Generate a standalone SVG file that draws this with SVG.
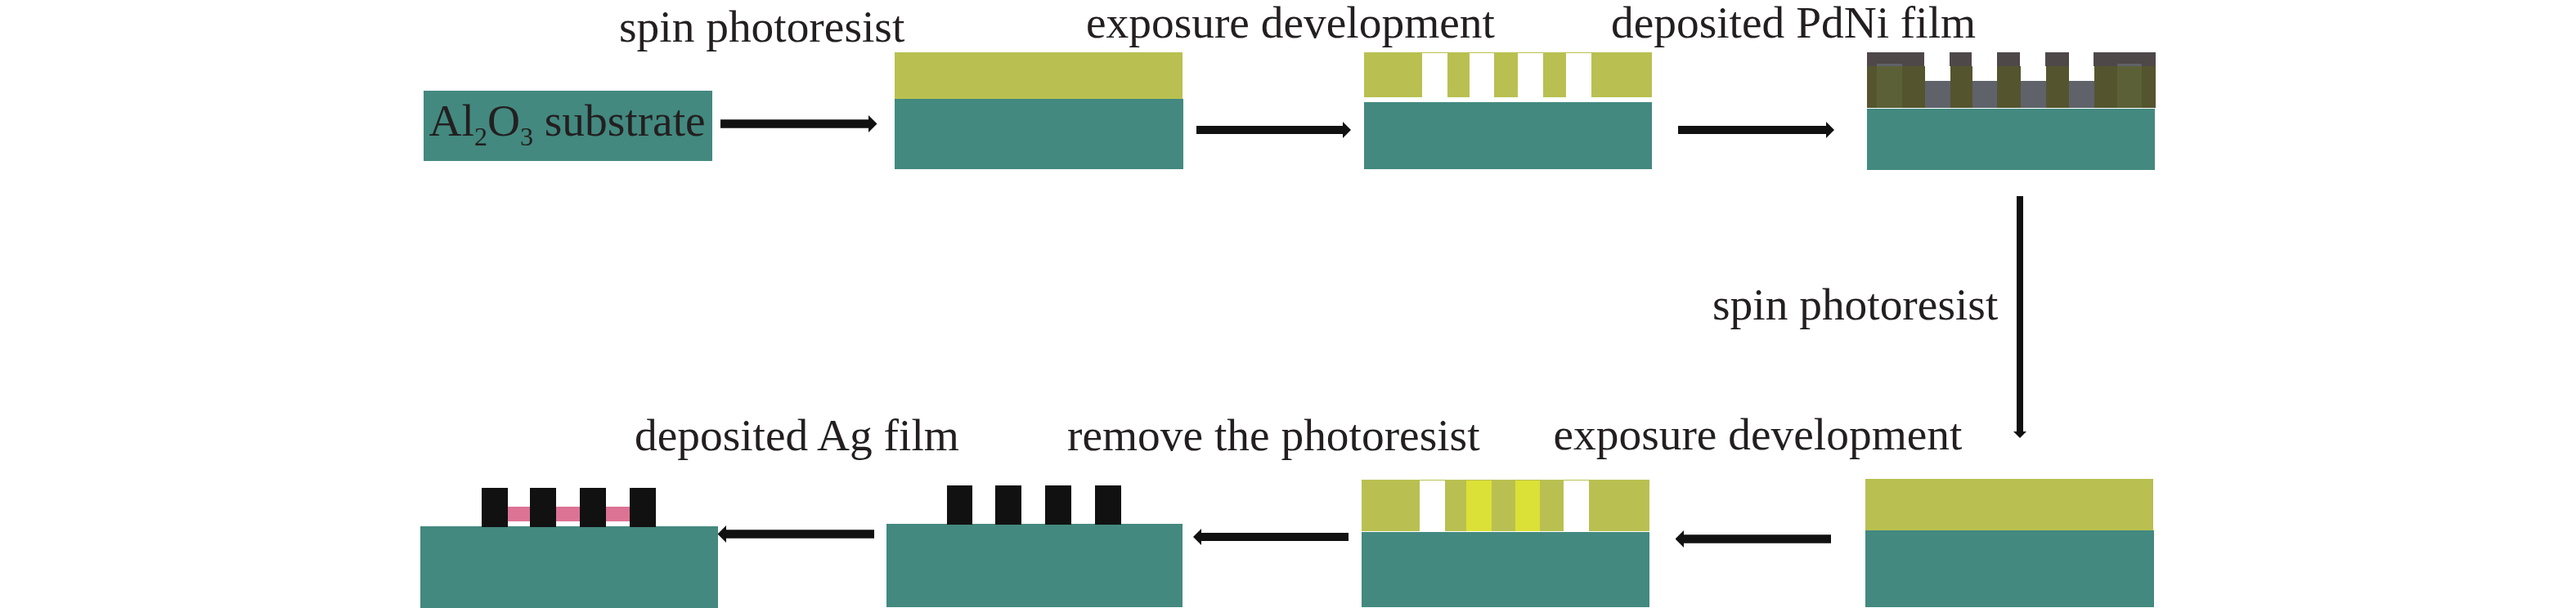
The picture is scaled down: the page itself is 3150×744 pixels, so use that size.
<svg xmlns="http://www.w3.org/2000/svg" width="3150" height="744" viewBox="0 0 3150 744">
<defs>
<marker id="head" markerUnits="strokeWidth" markerWidth="1" markerHeight="2" viewBox="0 0 10 20" refX="0" refY="10" orient="auto"><path d="M0 0 L10 10 L0 20 Z" fill="#111"/></marker>
</defs>
<style>
.sub{fill:#43897f}
.res{fill:#b9c051}
.yel{fill:#dbe136}
.blk{fill:#111}
.drk{fill:#4e4849}
.olv{fill:#54552f}
.gry{fill:#5f6269}
.lit{fill:#5c6036}
.pnk{fill:#dc7395}
.gap{fill:#fff}
.lbl{font-family:"Liberation Serif","Times New Roman",serif;font-size:55.4px;fill:#231f20}
.arr{stroke:#111;fill:none;marker-end:url(#head)}
</style>
<rect width="3150" height="744" fill="#fff"/>
<g id="connectors">
<line class="arr" x1="881" y1="151.500" x2="1062" y2="151.500" stroke-width="10.500"/>
<line class="arr" x1="1463" y1="159" x2="1642" y2="159" stroke-width="10"/>
<line class="arr" x1="2052" y1="159" x2="2233" y2="159" stroke-width="10"/>
<line class="arr" x1="2470" y1="240" x2="2470" y2="528" stroke-width="8"/>
<line class="arr" x1="2239" y1="659.500" x2="2059" y2="659.500" stroke-width="10.500"/>
<line class="arr" x1="1649" y1="657" x2="1469" y2="657" stroke-width="10"/>
<line class="arr" x1="1069" y1="653.500" x2="888" y2="653.500" stroke-width="10.500"/>
</g>
<g id="node-1">
<rect class="sub" x="518" y="111" width="353" height="86"/>
<text class="lbl" x="524.500" y="165.500">Al<tspan font-size="32" dy="12">2</tspan><tspan dy="-12">O</tspan><tspan font-size="32" dy="12">3</tspan><tspan dy="-12"> substrate</tspan></text>
</g>
<text id="label-1" class="lbl" x="757" y="51">spin photoresist</text>
<g id="node-2">
<rect class="res" x="1094" y="64" width="352" height="57"/>
<rect class="sub" x="1094" y="121" width="353" height="86"/>
</g>
<text id="label-2" class="lbl" x="1328" y="46">exposure development</text>
<g id="node-3">
<rect class="res" x="1668" y="64" width="352" height="55"/>
<rect class="gap" x="1739" y="65" width="31" height="54"/>
<rect class="gap" x="1797" y="65" width="30" height="54"/>
<rect class="gap" x="1856" y="65" width="31" height="54"/>
<rect class="gap" x="1915" y="65" width="31" height="54"/>
<rect class="sub" x="1668" y="125" width="352" height="82"/>
</g>
<text id="label-3" class="lbl" x="1970" y="46">deposited PdNi film</text>
<g id="node-4">
<rect class="drk" x="2283" y="64" width="70" height="17"/>
<rect class="drk" x="2384" y="64" width="27" height="17"/>
<rect class="drk" x="2442" y="64" width="28" height="17"/>
<rect class="drk" x="2501" y="64" width="29" height="17"/>
<rect class="drk" x="2560" y="64" width="76" height="17"/>
<rect class="gry" x="2354" y="99" width="31" height="33"/>
<rect class="gry" x="2412" y="99" width="30" height="33"/>
<rect class="gry" x="2471" y="99" width="31" height="33"/>
<rect class="gry" x="2530" y="99" width="31" height="33"/>
<rect class="olv" x="2283" y="81" width="71" height="51"/>
<rect class="olv" x="2385" y="81" width="27" height="51"/>
<rect class="olv" x="2442" y="81" width="29" height="51"/>
<rect class="olv" x="2502" y="81" width="28" height="51"/>
<rect class="olv" x="2561" y="81" width="75" height="51"/>
<rect class="gry" x="2295" y="78" width="31" height="3"/>
<rect class="gry" x="2589" y="78" width="30" height="3"/>
<rect class="lit" x="2295" y="81" width="31" height="51"/>
<rect class="lit" x="2589" y="81" width="30" height="51"/>
<rect class="sub" x="2283" y="133" width="352" height="75"/>
</g>
<text id="label-4" class="lbl" x="2094" y="391">spin photoresist</text>
<g id="node-5">
<rect class="res" x="2281" y="586" width="352" height="63"/>
<rect class="sub" x="2281" y="649" width="353" height="94"/>
</g>
<text id="label-5" class="lbl" x="1899.500" y="550">exposure development</text>
<g id="node-6">
<rect class="res" x="1665" y="587" width="352" height="63"/>
<rect class="gap" x="1736" y="588" width="31" height="62"/>
<rect class="yel" x="1793" y="588" width="31" height="62"/>
<rect class="yel" x="1853" y="588" width="30" height="62"/>
<rect class="gap" x="1912" y="588" width="31" height="62"/>
<rect class="sub" x="1665" y="651" width="352" height="92"/>
</g>
<text id="label-6" class="lbl" x="1305" y="550.500">remove the photoresist</text>
<g id="node-7">
<rect class="sub" x="1084" y="641" width="362" height="102"/>
<rect class="blk" x="1158" y="594" width="31" height="48"/>
<rect class="blk" x="1217" y="594" width="32" height="48"/>
<rect class="blk" x="1278" y="594" width="32" height="48"/>
<rect class="blk" x="1339" y="594" width="32" height="48"/>
</g>
<text id="label-7" class="lbl" x="776" y="550.500">deposited Ag film</text>
<g id="node-8">
<rect class="sub" x="514" y="644" width="364" height="100"/>
<rect class="pnk" x="621" y="620" width="149" height="18"/>
<rect class="blk" x="589" y="597" width="32" height="48"/>
<rect class="blk" x="648" y="597" width="32" height="48"/>
<rect class="blk" x="709" y="597" width="32" height="48"/>
<rect class="blk" x="770" y="597" width="32" height="48"/>
</g>
</svg>
